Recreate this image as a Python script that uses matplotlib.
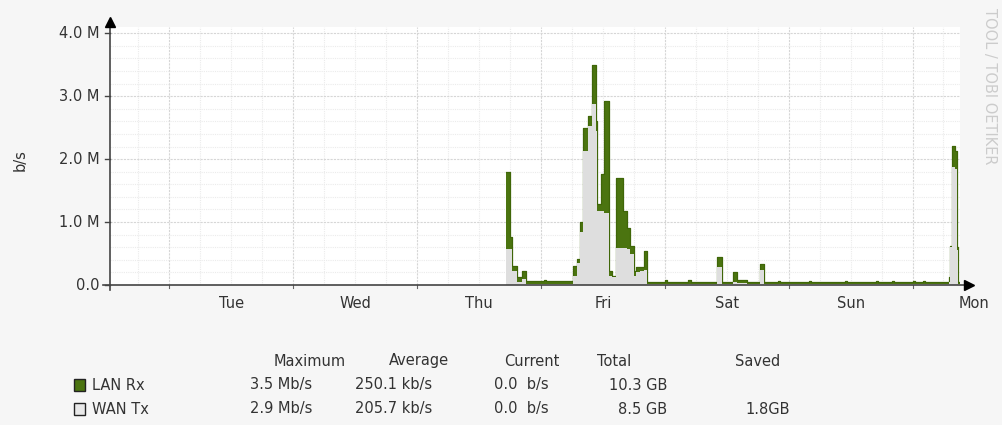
import numpy as np
import matplotlib.pyplot as plt
from matplotlib.patches import Rectangle

# hours from Tue 00:00, value holds until the next time (rrd steps)
times = [65.3, 66.0, 66.45, 67.3, 68.3, 69.1, 72.5, 73.0, 78.3, 78.9,
         79.5, 80.2, 81.2, 81.8, 82.6, 82.9, 83.7, 84.2, 85.2, 85.7,
         86.6, 87.9, 88.6, 89.2, 90.0, 90.5, 91.2, 91.9, 92.5, 96.0,
         96.5, 100.5, 101.0, 106.2, 107.1, 109.3, 110.0, 112.0, 114.5, 115.3,
         118.0, 118.4, 124.0, 124.4, 131.0, 131.4, 137.0, 137.4, 140.0, 140.4,
         144.0, 144.4, 146.0, 146.4, 151.0, 151.3, 151.7, 152.2, 152.7, 152.9,
         153.2]
lan_rx = [1.79, 0.76, 0.30, 0.13, 0.23, 0.06, 0.08, 0.06, 0.30, 0.42,
          1.00, 2.50, 2.68, 3.50, 2.60, 1.28, 1.76, 2.92, 0.22, 0.15,
          1.70, 1.17, 0.91, 0.62, 0.23, 0.29, 0.29, 0.54, 0.05, 0.08,
          0.05, 0.08, 0.05, 0.44, 0.05, 0.20, 0.08, 0.05, 0.33, 0.04,
          0.07, 0.04, 0.07, 0.04, 0.07, 0.04, 0.07, 0.04, 0.07, 0.04,
          0.07, 0.04, 0.07, 0.04, 0.13, 0.62, 2.21, 2.13, 0.60, 0.04,
          0.04]
wan_tx = [0.58, 0.58, 0.22, 0.05, 0.10, 0.02, 0.02, 0.02, 0.15, 0.35,
          0.85, 2.13, 2.52, 2.88, 2.45, 1.17, 1.17, 1.15, 0.15, 0.12,
          0.59, 0.59, 0.57, 0.50, 0.15, 0.20, 0.22, 0.24, 0.02, 0.02,
          0.02, 0.02, 0.02, 0.28, 0.02, 0.05, 0.03, 0.02, 0.24, 0.02,
          0.02, 0.02, 0.02, 0.02, 0.02, 0.02, 0.02, 0.02, 0.02, 0.02,
          0.02, 0.02, 0.02, 0.02, 0.05, 0.60, 1.88, 1.85, 0.55, 0.02,
          0.02]

day_labels = ['Tue', 'Wed', 'Thu', 'Fri', 'Sat', 'Sun', 'Mon']
y_ticks = [0, 1, 2, 3, 4]
y_labels = ['0.0', '1.0 M', '2.0 M', '3.0 M', '4.0 M']

legend_head = ['Maximum', 'Average', 'Current', 'Total', 'Saved']
series = ['LAN Rx', 'WAN Tx']
maximum = ['3.5 Mb/s', '2.9 Mb/s']
average = ['250.1 kb/s', '205.7 kb/s']
current = ['0.0  b/s', '0.0  b/s']
total = ['10.3 GB', '8.5 GB']
saved = ['', '1.8GB']

GREEN = '#4b7410'
GRAY = '#dedede'
TXT = '#333333'

plt.rcParams['font.family'] = ['DejaVu Sans']

W, H = 1002, 425
fig = plt.figure(figsize=(W / 100, H / 100), dpi=100, facecolor='#f6f6f6')
x0, x1, y0, y1 = 110, 960, 285, 27
ax = fig.add_axes([x0 / W, 1 - y0 / H, (x1 - x0) / W, (y0 - y1) / H])
ax.set_facecolor('white')
ax.set_xlim(-11.5, 153.2)
ax.set_ylim(0, 4.1)

# grid: minor 6 h / 0.2 M, major at midnight / 1 M
for h in np.arange(-6, 153, 6):
    major = h % 24 == 0
    ax.axvline(h, color='#d6d6d6' if major else '#ebebeb', lw=0.8,
               ls=(0, (2, 1)) if major else (0, (1, 1)), zorder=0)
for v in np.arange(0.2, 4.01, 0.2):
    major = abs(v - round(v)) < 1e-6
    ax.axhline(v, color='#d6d6d6' if major else '#ebebeb', lw=0.8,
               ls=(0, (2, 1)) if major else (0, (1, 1)), zorder=0)

ax.fill_between(times, lan_rx, step='post', color=GREEN, lw=0, zorder=2)
ax.step(times, lan_rx, where='post', color='#3f6608', lw=0.9, zorder=3)
ax.fill_between(times, wan_tx, step='post', color=GRAY, lw=0, zorder=4)

for s in ax.spines.values():
    s.set_visible(False)
ax.set_xticks([])
ax.set_yticks([])

# axes with arrows
ax.plot([-0.008, 1.008], [0, 0], transform=ax.transAxes, color='#444444',
        lw=1.2, clip_on=False, zorder=6)
ax.plot([0, 0], [-0.02, 1.0], transform=ax.transAxes, color='#444444',
        lw=1.2, clip_on=False, zorder=6)
ax.plot([1.011], [0], marker='>', ms=7, color='black', transform=ax.transAxes,
        clip_on=False, zorder=7)
ax.plot([0], [1.02], marker='^', ms=7, color='black', transform=ax.transAxes,
        clip_on=False, zorder=7)

for v, lab in zip(y_ticks, y_labels):
    ax.plot([-0.006, 0], [v, v], color='#444444', lw=1,
            transform=ax.get_yaxis_transform(), clip_on=False)
    ax.text(-0.012, v, lab, transform=ax.get_yaxis_transform(), ha='right',
            va='center', fontsize=10.5, color=TXT)
for i, lab in enumerate(day_labels):
    ax.plot([i * 24, i * 24], [-0.012, 0], color='#666666', lw=0.8,
            transform=ax.get_xaxis_transform(), clip_on=False)
    ax.text(12 + i * 24, -0.07, lab, transform=ax.get_xaxis_transform(),
            ha='center', va='center', fontsize=10.5, color=TXT, clip_on=False)

fig.text(20 / W, 1 - 160 / H, 'b/s', rotation=90, ha='center', va='center',
         fontsize=10.5, color=TXT)
fig.text(989 / W, 1 - 8 / H, 'TOOL / TOBI OETIKER', rotation=270, ha='center',
         va='top', fontsize=10.5, color='#cccccc')

# legend table
head_x = [310, 419, 532, 614, 758]
for x, s in zip(head_x, legend_head):
    fig.text(x / W, 1 - 361 / H, s, ha='center', va='center', fontsize=10.5,
             color=TXT)
row_y = [385, 409]
box_col = [GREEN, '#e8e8e8']
for i, y in enumerate(row_y):
    fig.patches.append(Rectangle(((74) / W, 1 - (y + 6) / H), 11 / W, 12 / H,
                                 transform=fig.transFigure, facecolor=box_col[i],
                                 edgecolor='#222222', lw=1))
    fig.text(92 / W, 1 - y / H, series[i], ha='left', va='center',
             fontsize=10.5, color=TXT)
    fig.text(250 / W, 1 - y / H, maximum[i], ha='left', va='center',
             fontsize=10.5, color=TXT)
    fig.text(355 / W, 1 - y / H, average[i], ha='left', va='center',
             fontsize=10.5, color=TXT)
    fig.text(494 / W, 1 - y / H, current[i], ha='left', va='center',
             fontsize=10.5, color=TXT)
    fig.text(667 / W, 1 - y / H, total[i], ha='right', va='center',
             fontsize=10.5, color=TXT)
    if saved[i]:
        fig.text(790 / W, 1 - y / H, saved[i], ha='right', va='center',
                 fontsize=10.5, color=TXT)

fig.savefig('out.png', dpi=100, facecolor=fig.get_facecolor())
